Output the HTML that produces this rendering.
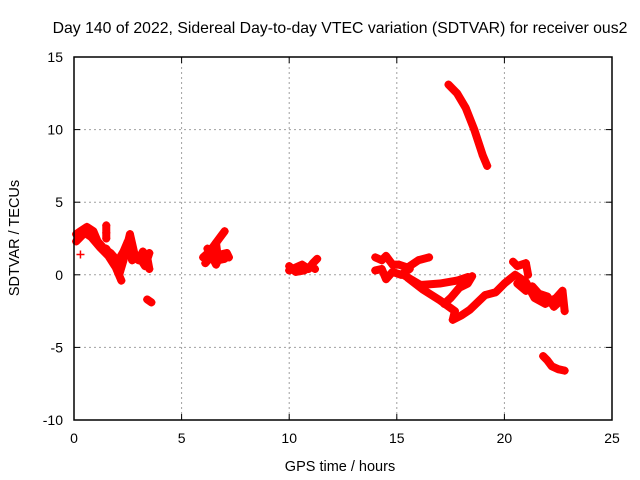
<!DOCTYPE html>
<html><head><meta charset="utf-8"><style>
body{margin:0;background:#fff;}
svg{display:block;font-family:"Liberation Sans",sans-serif;}
</style></head><body>
<svg id="chart" width="640" height="480">
<text x="340" y="33" font-size="15.8" text-anchor="middle">Day 140 of 2022, Sidereal Day-to-day VTEC variation (SDTVAR) for receiver ous2</text>
<text x="340" y="471" font-size="14.5" text-anchor="middle">GPS time / hours</text>
<text transform="translate(19,238) rotate(-90)" font-size="14.5" text-anchor="middle">SDTVAR / TECUs</text>
<g id="grid"></g>
<g id="marks"></g>
<rect x="74" y="57" width="538" height="363" fill="none" stroke="#000" stroke-width="1.5"/>
<g id="ticks"></g>
</svg>
<script>
const xTicks=[0,5,10,15,20,25];
const yTicks=[-10,-5,0,5,10,15];
const trackA=[[0.1,2.8],[0.3,3.0],[0.6,3.3],[0.9,3.0],[1.1,2.3],[1.4,1.8],[1.7,1.5],[2.0,1.0],[2.1,0.0],[2.3,1.0],[2.6,2.8],[2.8,1.5],[3.0,1.0],[3.2,1.6],[3.4,1.2],[3.5,0.4]];
const trackA2=[[1.5,1.8],[1.8,1.0],[2.0,0.3],[2.2,-0.4]];
const trackA3=[[1.5,3.4],[1.5,2.9],[1.5,2.5]];
const trackA4=[[0.3,1.4]];
const trackA5=[[3.4,-1.7],[3.6,-1.9]];
const trackA6=[[0.1,2.3],[0.5,2.9],[0.8,2.6],[1.2,1.9],[1.6,1.3],[1.9,0.6],[2.3,1.6],[2.5,2.3],[2.7,1.0],[3.0,1.3],[3.3,0.6],[3.5,1.5]];
const trackB=[[6.0,1.2],[6.3,1.6],[6.5,2.0],[6.8,2.6],[7.0,3.0]];
const trackB2=[[6.1,0.8],[6.4,1.3],[6.6,0.7],[6.8,1.4],[7.1,1.5],[7.2,1.2]];
const trackB3=[[6.2,1.8],[6.6,1.6],[6.6,2.2],[6.7,1.0],[7.0,1.1]];
const trackC=[[10.0,0.3],[10.3,0.5],[10.6,0.7],[10.9,0.4],[11.1,0.8],[11.3,1.1]];
const trackC2=[[10.0,0.6],[10.3,0.2],[10.7,0.3],[11.0,0.6],[11.2,0.4]];
const trackD=[[14.0,1.2],[14.3,1.0],[14.5,1.3],[14.8,0.7],[15.1,0.7],[15.5,0.5],[16.0,1.0],[16.5,1.2]];
const trackD2=[[14.0,0.3],[14.3,0.4],[14.5,-0.3],[14.8,0.2],[15.2,0.0],[15.6,0.4]];
const trackE=[[15.3,0.0],[16.1,-0.7],[17.0,-0.6],[17.8,-0.4],[18.3,-0.15]];
const trackF=[[15.5,-0.2],[16.2,-1.0],[17.0,-1.75],[17.7,-2.5],[17.6,-3.1],[18.0,-2.8],[18.4,-2.4],[19.1,-1.4],[19.6,-1.2],[20.0,-0.6],[20.5,0.0],[21.0,-0.5],[21.4,-1.6],[21.9,-2.0],[22.4,-1.6],[22.7,-1.1],[22.8,-2.5]];
const trackF2=[[17.2,-2.0],[17.5,-1.6],[17.9,-0.9],[18.3,-0.6],[18.5,-0.1]];
const trackF3=[[20.6,-0.6],[21.0,-1.1],[21.3,-0.8],[21.6,-1.3],[22.0,-1.5],[22.3,-2.2],[22.6,-1.8]];
const trackG=[[20.4,0.9],[20.6,0.6],[21.0,0.8],[21.1,0.0]];
const trackH=[[17.4,13.1],[17.8,12.5],[18.2,11.5],[18.6,10.0],[19.0,8.2],[19.2,7.5]];
const trackI=[[21.8,-5.6],[22.0,-5.9],[22.2,-6.3],[22.5,-6.5],[22.8,-6.6]];
const tracks=[trackA,trackA2,trackA3,trackA4,trackA5,trackA6,trackB,trackB2,trackB3,trackC,trackC2,trackD,trackD2,trackE,trackF,trackF2,trackF3,trackG,trackH,trackI];
const NS='http://www.w3.org/2000/svg';
const X0=74,X1=612,Y0=420,Y1=57;
function sx(t){return X0+(t-0)/(25-0)*(X1-X0);}
function sy(v){return Y0-(v+10)/(25)*(Y0-Y1);}
function mk(tag,attrs,parent){const e=document.createElementNS(NS,tag);for(const k in attrs)e.setAttribute(k,attrs[k]);parent.appendChild(e);return e;}
const grid=document.getElementById('grid'),ticks=document.getElementById('ticks'),marks=document.getElementById('marks');
xTicks.forEach(t=>{
  const x=sx(t);
  if(t>0&&t<25){const l=mk('line',{x1:x,x2:x,y1:Y1,y2:Y0,stroke:'#a0a0a0','stroke-dasharray':'2,3'},grid);
  
  }
  mk('line',{x1:x,x2:x,y1:Y0,y2:Y0-6,stroke:'#000'},ticks);
  mk('line',{x1:x,x2:x,y1:Y1,y2:Y1+6,stroke:'#000'},ticks);
  const tx=mk('text',{x:x,y:443,'font-size':'14','text-anchor':'middle'},ticks);tx.textContent=t;
  
  
});
yTicks.forEach(v=>{
  const y=sy(v);
  if(v>-10&&v<15){const l=mk('line',{x1:X0,x2:X1,y1:y,y2:y,stroke:'#a0a0a0','stroke-dasharray':'2,3'},grid);
  
  }
  mk('line',{x1:X0,x2:X0+6,y1:y,y2:y,stroke:'#000'},ticks);
  mk('line',{x1:X1,x2:X1-6,y1:y,y2:y,stroke:'#000'},ticks);
  const tx=mk('text',{x:63,y:y+5,'font-size':'14','text-anchor':'end'},ticks);tx.textContent=v;
  
  
});
tracks.forEach(tr=>{
  if(tr.length>1){
    const p=mk('polyline',{points:tr.map(d=>sx(d[0])+','+sy(d[1])).join(' '),fill:'none',stroke:'#f00','stroke-width':8,'stroke-linejoin':'round','stroke-linecap':'round'},marks);
    
    
  }
  tr.forEach(d=>{
    const x=sx(d[0]),y=sy(d[1]);
    const g=mk('path',{d:`M${x-4},${y}H${x+4}M${x},${y-4}V${y+4}`,stroke:'#f00','stroke-width':1.5},marks);
    
    
  });
});
</script>
</body></html>
